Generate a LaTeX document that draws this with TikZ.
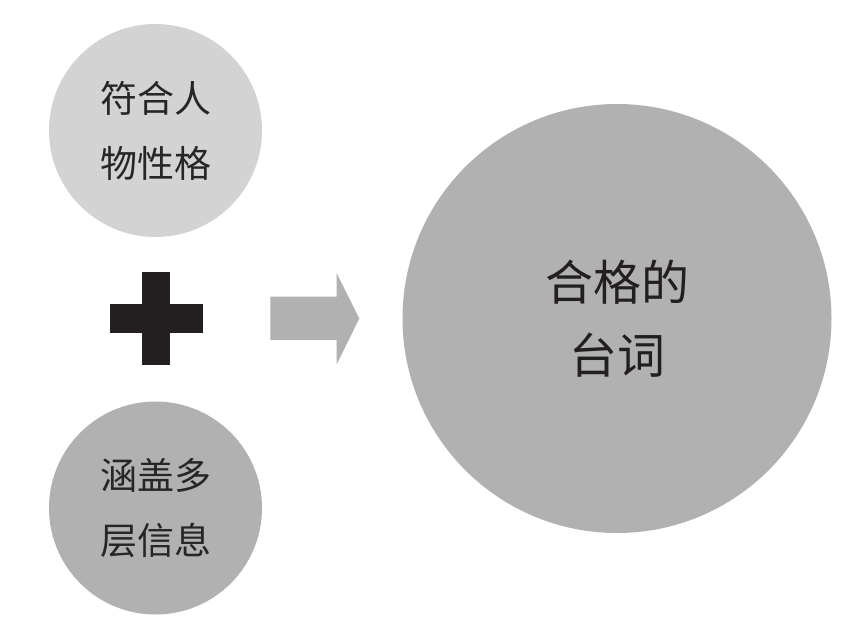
\documentclass[tikz,border=0pt]{standalone}
\usepackage{fontspec}
\newfontfamily\cjk{Noto Sans CJK SC}
\usepackage{xcolor}
\usepackage{tikz}
\usetikzlibrary{positioning}

\definecolor{lightgray}{HTML}{D3D3D3}
\definecolor{midgray}{HTML}{B1B1B1}
\definecolor{inkblack}{HTML}{231F20}

\begin{document}
\begin{tikzpicture}[x=1pt,y=-1pt,
    bubble/.style={circle,inner sep=0pt,minimum size=213pt,align=center,
        text=black!85,font=\cjk\fontsize{37}{65}\selectfont},
    bigbubble/.style={circle,inner sep=0pt,minimum size=429pt,align=center,fill=midgray,
        text=inkblack,font=\cjk\fontsize{48}{73}\selectfont}]
    \useasboundingbox (0,0) rectangle (860,638);

    \node[bubble,fill=lightgray] (T) at (155.5,130.5) {符合人\\物性格};
    \node[bubble,fill=midgray] (B) at (155.5,508) {涵盖多\\层信息};
    \node[bigbubble] (R) at (617,318.5) {合格的\\台词};

    % plus sign
    \fill[inkblack] (142.3,272.3) rectangle (170.3,365);
    \fill[inkblack] (110,304) rectangle (202.7,332.7);

    % arrow
    \fill[midgray] (270.3,296.7) -- (336.7,296.7) -- (336.7,273.3) -- (359.3,318.5)
        -- (336.7,364.3) -- (336.7,340) -- (270.3,340) -- cycle;
\end{tikzpicture}
\end{document}
